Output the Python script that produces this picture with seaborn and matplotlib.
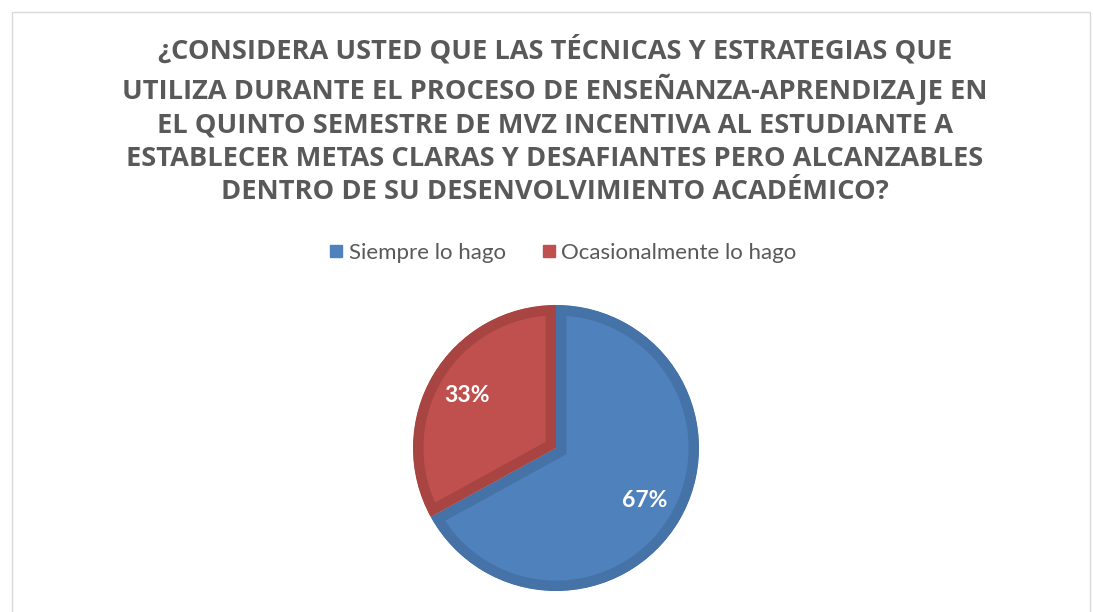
import matplotlib
matplotlib.use("Agg")
import matplotlib.pyplot as plt
from matplotlib.lines import Line2D
from matplotlib.patches import Rectangle
import numpy as np
import seaborn as sns

# ---- data ----
title = ("¿CONSIDERA USTED QUE LAS TÉCNICAS Y ESTRATEGIAS QUE\n"
         "UTILIZA DURANTE EL PROCESO DE ENSEÑANZA-APRENDIZAJE EN\n"
         "EL QUINTO SEMESTRE DE MVZ INCENTIVA AL ESTUDIANTE A\n"
         "ESTABLECER METAS CLARAS Y DESAFIANTES PERO ALCANZABLES\n"
         "DENTRO DE SU DESENVOLVIMIENTO ACADÉMICO?")
categories = ["Siempre lo hago", "Ocasionalmente lo hago"]
values = [67, 33]
labels = ["67%", "33%"]

sns.set_theme(style="white")
plt.rcParams["font.family"] = ["Lato", "DejaVu Sans"]

fill_colors = ["#4F81BD", "#C0504D"]
edge_colors = ["#4572A7", "#A84543"]
text_gray = "#595959"

W, H = 1093, 612
fig = plt.figure(figsize=(W / 100, H / 100), dpi=100)
fig.patch.set_facecolor("white")

# chart frame
fig.add_artist(Rectangle((12 / W, -0.1), (1090 - 12) / W, 1.1 - 12 / H,
                         transform=fig.transFigure, fill=False,
                         edgecolor="#D9D9D9", linewidth=1.0))

# title
fig.text(555 / W, 1 - 35 / H, title, ha="center", va="top",
         fontsize=19.6, fontweight="bold", color=text_gray,
         family=["Open Sans", "DejaVu Sans"], linespacing=1.37)

# pie axes
cx, cy, r = 556, 448, 143
ax = fig.add_axes([(cx - r) / W, 1 - (cy + r) / H, 2 * r / W, 2 * r / H])
wedges, _ = ax.pie(values, colors=fill_colors, startangle=90,
                   counterclock=False, radius=1.0,
                   wedgeprops=dict(linewidth=15))
ax.set_xlim(-1, 1)
ax.set_ylim(-1, 1)
ax.set_aspect("equal")
ax.axis("off")
for w, ec in zip(wedges, edge_colors):
    w.set_edgecolor(ec)
    w.set_clip_on(True)
    w.set_clip_path(w.get_path(), w.get_transform())

# data labels (positions from the data via wedge angles)
for w, lab in zip(wedges, labels):
    ang = np.deg2rad((w.theta1 + w.theta2) / 2)
    ax.text(0.72 * np.cos(ang), 0.72 * np.sin(ang), lab, ha="center",
            va="center", color="white", fontsize=16.5, fontweight="bold")

# legend
handles = [Line2D([0], [0], marker="s", linestyle="", markersize=9,
                  markerfacecolor=c, markeredgecolor=c) for c in fill_colors]
leg = fig.legend(handles, categories, loc="center", ncol=2,
                 bbox_to_anchor=(563 / W, 1 - 253 / H), frameon=False,
                 fontsize=16, handlelength=0.6, handletextpad=0.25,
                 columnspacing=1.65, labelcolor=text_gray)

fig.savefig("out.png", dpi=100)
